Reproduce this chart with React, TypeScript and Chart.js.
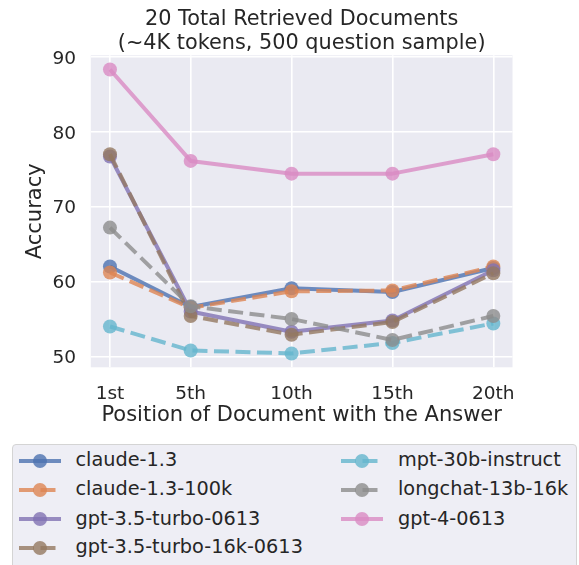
import React, { useEffect, useRef } from "react";
import { Chart, registerables } from "chart.js";

Chart.register(...registerables);

// ---------- data ----------
const positions = [1, 5, 10, 15, 20];
const positionLabels = ["1st", "5th", "10th", "15th", "20th"];
const yTickValues = [50, 60, 70, 80, 90];

const seriesNames = [
  "claude-1.3",
  "claude-1.3-100k",
  "gpt-3.5-turbo-0613",
  "gpt-3.5-turbo-16k-0613",
  "mpt-30b-instruct",
  "longchat-13b-16k",
  "gpt-4-0613",
];

const claude13 = [62.0, 56.6, 59.1, 58.6, 61.8];
const claude13_100k = [61.2, 56.5, 58.7, 58.8, 62.0];
const gpt35 = [76.7, 56.0, 53.3, 54.8, 61.5];
const gpt35_16k = [77.0, 55.4, 52.9, 54.6, 61.1];
const mpt30b = [54.0, 50.8, 50.4, 51.8, 54.4];
const longchat = [67.2, 56.7, 55.0, 52.2, 55.4];
const gpt4 = [88.3, 76.1, 74.4, 74.4, 77.0];

const seriesValues = [claude13, claude13_100k, gpt35, gpt35_16k, mpt30b, longchat, gpt4];
const seriesColors = ["#4C72B0", "#DD8452", "#8172B3", "#937860", "#64B5CD", "#8C8C8C", "#DA8BC3"];
const seriesDashed = [false, true, false, true, true, true, false];

const titleLines = ["20 Total Retrieved Documents", "(~4K tokens, 500 question sample)"];
const xTitle = "Position of Document with the Answer";
const yTitle = "Accuracy";

// ---------- styles ----------
const FONT = "'DejaVu Sans', 'Liberation Sans', sans-serif";
const TEXT = "#262626";
const ALPHA = 0.8;
const DASH = [15, 6.5];

function rgba(hex: string, a: number) {
  const n = parseInt(hex.slice(1), 16);
  return `rgba(${(n >> 16) & 255},${(n >> 8) & 255},${n & 255},${a})`;
}

const CANVAS_W = 579;
const CANVAS_H = 440;

const bgPlugin = {
  id: "plotBg",
  beforeDraw(chart: any) {
    const { ctx, chartArea: a } = chart;
    ctx.save();
    ctx.fillStyle = "#EAEAF2";
    ctx.fillRect(a.left, a.top, a.right - a.left, a.bottom - a.top);
    ctx.restore();
  },
};

const titlePlugin = {
  id: "twoLineTitle",
  afterDraw(chart: any) {
    const { ctx, chartArea: a } = chart;
    const cx = (a.left + a.right) / 2;
    ctx.save();
    ctx.fillStyle = TEXT;
    ctx.font = `20.8px ${FONT}`;
    ctx.textAlign = "center";
    ctx.textBaseline = "alphabetic";
    ctx.fillText(titleLines[0], cx, 25);
    ctx.fillText(titleLines[1], cx, 49.3);
    ctx.restore();
  },
};

function LegendItem({ i, x, y }: { i: number; x: number; y: number }) {
  const c = rgba(seriesColors[i], ALPHA);
  return (
    <>
      <svg
        width={58}
        height={22}
        style={{ position: "absolute", left: x - 8, top: y - 11, overflow: "visible" }}
      >
        <line
          x1={8}
          y1={11}
          x2={50}
          y2={11}
          stroke={c}
          strokeWidth={4}
          strokeDasharray={seriesDashed[i] ? DASH.join(" ") : undefined}
        />
        <circle cx={29} cy={11} r={7} fill={c} />
      </svg>
      <span
        style={{
          position: "absolute",
          left: x + 57,
          top: y - 11.7,
          fontFamily: FONT,
          fontSize: 19.3,
          lineHeight: "22px",
          color: TEXT,
          whiteSpace: "nowrap",
        }}
      >
        {seriesNames[i]}
      </span>
    </>
  );
}

export default function App() {
  const ref = useRef<HTMLCanvasElement | null>(null);

  useEffect(() => {
    if (!ref.current) return;
    const datasets = seriesNames.map((name, i) => {
      const col = rgba(seriesColors[i], ALPHA);
      return {
        label: name,
        data: positions.map((x, k) => ({ x, y: seriesValues[i][k] })),
        borderColor: col,
        backgroundColor: col,
        borderWidth: 4,
        borderDash: seriesDashed[i] ? DASH : [],
        borderCapStyle: "butt" as const,
        borderJoinStyle: "round" as const,
        pointRadius: 7,
        pointHoverRadius: 7,
        pointBorderWidth: 0,
        pointBackgroundColor: col,
        tension: 0,
        order: 20 - i,
        clip: false as any,
      };
    });

    const chart = new Chart(ref.current, {
      type: "line",
      data: { datasets },
      plugins: [bgPlugin, titlePlugin],
      options: {
        responsive: false,
        animation: false,
        devicePixelRatio: 1,
        layout: { padding: { left: 0, right: 66.5, top: 55.3, bottom: 0 } },
        plugins: {
          legend: { display: false },
          tooltip: { enabled: false },
          title: { display: false },
        },
        scales: {
          x: {
            type: "linear",
            min: 0.05,
            max: 20.95,
            afterBuildTicks: (s: any) => {
              s.ticks = positions.map((v) => ({ value: v }));
            },
            afterFit: (s: any) => {
              s.height = CANVAS_H - 367.3;
            },
            ticks: {
              callback: (v: any) => {
                const idx = positions.indexOf(Number(v));
                return idx >= 0 ? positionLabels[idx] : "";
              },
              font: { family: FONT, size: 18.5 },
              color: TEXT,
              padding: 15.5,
              autoSkip: false,
              maxRotation: 0,
            },
            grid: { color: "#ffffff", lineWidth: 1.6, drawTicks: false },
            border: { display: false },
            title: {
              display: true,
              text: xTitle,
              font: { family: FONT, size: 21 },
              color: TEXT,
              padding: { top: 0, bottom: 11.4 },
            },
          },
          y: {
            type: "linear",
            min: 48.55,
            max: 90.2,
            afterBuildTicks: (s: any) => {
              s.ticks = yTickValues.map((v) => ({ value: v }));
            },
            afterFit: (s: any) => {
              s.width = 90.8;
            },
            ticks: {
              font: { family: FONT, size: 18.5 },
              color: TEXT,
              padding: 14.8,
              labelOffset: 2,
            },
            grid: { color: "#ffffff", lineWidth: 1.6, drawTicks: false },
            border: { display: false },
            title: {
              display: true,
              text: yTitle,
              font: { family: FONT, size: 21 },
              color: TEXT,
              padding: { top: 23.4, bottom: 0 },
            },
          },
        },
      } as any,
    });
    return () => chart.destroy();
  }, []);

  const rowY = [460.7, 490.0, 519.2, 547.8];
  const leftX = 18.5;
  const rightX = 341;

  return (
    <div
      style={{
        position: "fixed",
        left: 0,
        top: 0,
        width: CANVAS_W,
        height: 565,
        overflow: "hidden",
        background: "#ffffff",
      }}
    >
      <canvas
        ref={ref}
        width={CANVAS_W}
        height={CANVAS_H}
        style={{ display: "block", position: "absolute", left: 0, top: 0 }}
      />
      <div
        style={{
          position: "absolute",
          left: 12.3,
          top: 444,
          width: 564.4,
          height: 150,
          boxSizing: "border-box",
          background: "rgb(238,238,245)",
          border: "1.3px solid #d4d4d4",
          borderRadius: 4,
        }}
      />
      {[0, 1, 2, 3].map((i) => (
        <LegendItem key={i} i={i} x={leftX} y={rowY[i]} />
      ))}
      {[4, 5, 6].map((i) => (
        <LegendItem key={i} i={i} x={rightX} y={rowY[i - 4]} />
      ))}
    </div>
  );
}
